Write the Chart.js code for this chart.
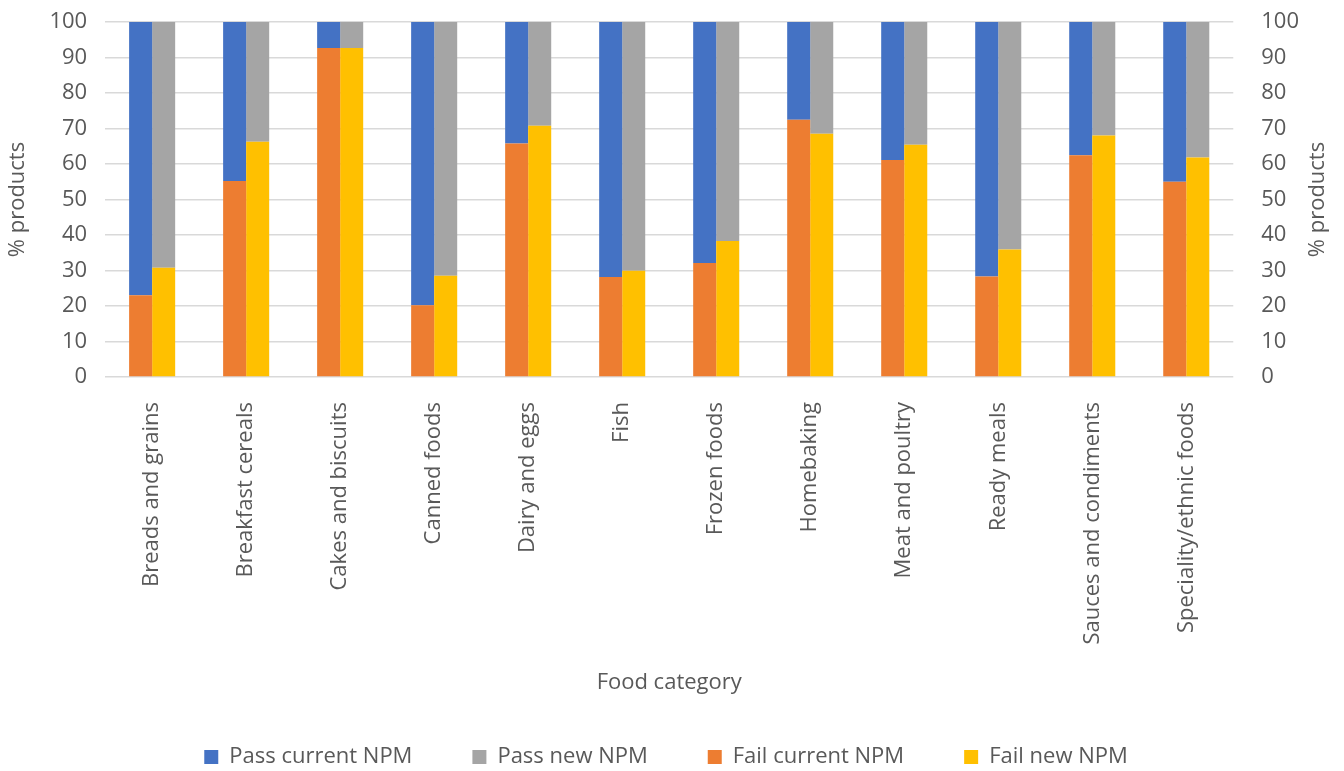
<!DOCTYPE html>
<html>
<head>
<meta charset="utf-8">
<script src="https://cdn.jsdelivr.net/npm/chart.js@4"></script>
<style>
  html, body { margin: 0; padding: 0; background: #fff; }
  #wrap { width: 1344px; height: 771px; }
</style>
</head>
<body>
<div id="wrap"><canvas id="chartNPM"></canvas></div>
<script>
// categorias e valores (% de produtos)
const categories = ['Breads and grains', 'Breakfast cereals', 'Cakes and biscuits', 'Canned foods',
    'Dairy and eggs', 'Fish', 'Frozen foods', 'Homebaking', 'Meat and poultry', 'Ready meals',
    'Sauces and condiments', 'Speciality/ethnic foods'];
const failCurrent = [23.0, 55.2, 92.7, 20.2, 65.8, 28.2, 32.1, 72.5, 61.1, 28.3, 62.5, 55.0];
const failNew     = [30.8, 66.3, 92.7, 28.5, 70.8, 29.9, 38.3, 68.5, 65.4, 35.9, 68.0, 61.8];
const passCurrent = [77.0, 44.8, 7.3, 79.8, 34.2, 71.8, 67.9, 27.5, 38.9, 71.7, 37.5, 45.0];
const passNew     = [69.2, 33.7, 7.3, 71.5, 29.2, 70.1, 61.7, 31.5, 34.6, 64.1, 32.0, 38.2];
const yTicks = [0, 10, 20, 30, 40, 50, 60, 70, 80, 90, 100];

const textColor = '#595959';
const fontFamily = '"Open Sans", sans-serif';

// título do eixo direito (lido de baixo para cima, como no original)
const rightTitle = {
    id: 'rightTitle',
    afterDraw(chart) {
        const ctx = chart.ctx;
        const area = chart.chartArea;
        ctx.save();
        ctx.translate(1318, (area.top + area.bottom) / 2);
        ctx.rotate(-Math.PI / 2);
        ctx.fillStyle = textColor;
        ctx.font = '22px ' + fontFamily;
        ctx.textAlign = 'center';
        ctx.textBaseline = 'middle';
        ctx.fillText('% products', 0, 0);
        ctx.restore();
    }
};

const legendRank = [2, 3, 0, 1];

// topo da área do gráfico sem o padding extra dos ticks
const fixTop = (scale) => { scale.paddingTop = 22; };

function initNPMChart() {
    const ctx = document.getElementById('chartNPM').getContext('2d');
    new Chart(ctx, {
        type: 'bar',
        data: {
            labels: categories,
            datasets: [
                { label: 'Fail current NPM', data: failCurrent, backgroundColor: '#ED7D31', stack: 'current' },
                { label: 'Fail new NPM', data: failNew, backgroundColor: '#FFC000', stack: 'new' },
                { label: 'Pass current NPM', data: passCurrent, backgroundColor: '#4472C4', stack: 'current' },
                { label: 'Pass new NPM', data: passNew, backgroundColor: '#A5A5A5', stack: 'new' }
            ]
        },
        options: {
            responsive: true,
            maintainAspectRatio: false,
            animation: false,
            categoryPercentage: 0.49,
            barPercentage: 1.0,
            layout: { padding: { left: 5, right: 17, top: 0, bottom: -7 } },
            plugins: {
                tooltip: { enabled: false },
                legend: {
                    position: 'bottom',
                    labels: {
                        color: textColor,
                        font: { family: fontFamily, size: 22 },
                        boxWidth: 14,
                        boxHeight: 14,
                        padding: 60,
                        sort: (a, b) => legendRank[a.datasetIndex] - legendRank[b.datasetIndex]
                    }
                }
            },
            scales: {
                x: {
                    stacked: true,
                    grid: { display: false, drawTicks: false },
                    border: { display: false },
                    ticks: {
                        color: textColor,
                        font: { family: fontFamily, size: 22 },
                        minRotation: 90,
                        maxRotation: 90,
                        padding: 25
                    },
                    title: {
                        display: true,
                        text: 'Food category',
                        color: textColor,
                        font: { family: fontFamily, size: 22 },
                        padding: { top: 0, bottom: -10 }
                    }
                },
                y: {
                    stacked: true,
                    min: 0,
                    max: 100,
                    afterBuildTicks: (axis) => { axis.ticks = yTicks.map(v => ({ value: v })); },
                    afterFit: fixTop,
                    grid: { color: '#D9D9D9', lineWidth: 1.5, drawTicks: false },
                    border: { display: false },
                    ticks: {
                        color: textColor,
                        font: { family: fontFamily, size: 22 },
                        padding: 18
                    },
                    title: {
                        display: true,
                        text: '% products',
                        color: textColor,
                        font: { family: fontFamily, size: 22 },
                        padding: { top: 0, bottom: 0 }
                    }
                },
                y2: {
                    position: 'right',
                    min: 0,
                    max: 100,
                    afterBuildTicks: (axis) => { axis.ticks = yTicks.map(v => ({ value: v })); },
                    afterFit: fixTop,
                    grid: { display: false, drawTicks: false },
                    border: { display: false },
                    ticks: {
                        color: textColor,
                        font: { family: fontFamily, size: 22 },
                        padding: 28
                    }
                }
            }
        },
        plugins: [rightTitle]
    });
}

window.addEventListener('DOMContentLoaded', () => {
    initNPMChart();
});
</script>
</body>
</html>
